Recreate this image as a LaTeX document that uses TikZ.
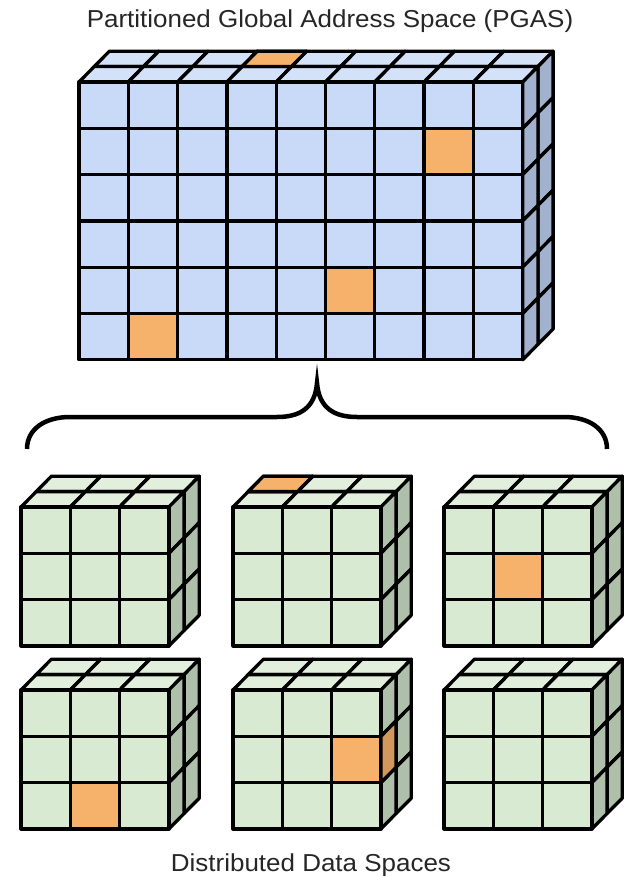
\documentclass[tikz,border=0pt]{standalone}
\usepackage{fontspec}
\setmainfont{Liberation Sans}
\usepackage{tikz}
\usetikzlibrary{calc}

\definecolor{pgasfront}{HTML}{C9DAF8}
\definecolor{pgastop}{HTML}{D3E1F9}
\definecolor{pgasside}{HTML}{A2B1CD}
\definecolor{dsfront}{HTML}{D9EAD3}
\definecolor{dstop}{HTML}{E2EFDD}
\definecolor{dsside}{HTML}{AEBFAA}
\definecolor{hit}{HTML}{F6B26B}
\definecolor{hitside}{HTML}{D1975C}

\def\cw{49.3}
\def\ch{46.3}
\def\dx{15.2}
\def\dy{-15.4}

\tikzset{
  cell/.style={draw=black, line width=3.3pt, line join=round},
  captiontext/.style={anchor=base, font=\fontsize{24.5}{28}\selectfont, text=black!85, xscale=1.06, transform shape}
}

% block: x, y, columns, rows, front, top, side
\newcommand{\drawblock}[7]{%
  \foreach \k in {1,0}{%
    \foreach \i in {1,...,#3}
      \filldraw[cell, fill=#6] ({#1+(\i-1)*\cw+\k*\dx},{#2+\k*\dy}) -- ++(\cw,0) -- ++(\dx,\dy) -- ++(-\cw,0) -- cycle;
    \foreach \j in {1,...,#4}
      \filldraw[cell, fill=#7] ({#1+#3*\cw+\k*\dx},{#2+(\j-1)*\ch+\k*\dy}) -- ++(\dx,\dy) -- ++(0,\ch) -- ++(-\dx,-\dy) -- cycle;
  }
  \foreach \i in {1,...,#3}
    \foreach \j in {1,...,#4}
      \filldraw[cell, fill=#5] ({#1+(\i-1)*\cw},{#2+(\j-1)*\ch}) rectangle ++(\cw,\ch);
}
% x, y, column, row
\newcommand{\hitfront}[4]{%
  \filldraw[cell, fill=hit] ({#1+(#3-1)*\cw},{#2+(#4-1)*\ch}) rectangle ++(\cw,\ch);
}
% x, y, column, layer
\newcommand{\hittop}[4]{%
  \filldraw[cell, fill=hit] ({#1+(#3-1)*\cw+#4*\dx},{#2+#4*\dy}) -- ++(\cw,0) -- ++(\dx,\dy) -- ++(-\cw,0) -- cycle;
}
% x, y, columns, row, layer
\newcommand{\hitsidecell}[5]{%
  \filldraw[cell, fill=hitside] ({#1+#3*\cw+#5*\dx},{#2+(#4-1)*\ch+#5*\dy}) -- ++(\dx,\dy) -- ++(0,\ch) -- ++(-\dx,-\dy) -- cycle;
}

\begin{document}
\begin{tikzpicture}[x=1pt, y=-1pt]
    \useasboundingbox (0,0) rectangle (623,877);

    \node[captiontext] (pgas) at (330,28) {Partitioned Global Address Space (PGAS)};

    \drawblock{79}{82}{9}{6}{pgasfront}{pgastop}{pgasside}
    \hittop{79}{82}{4}{1}
    \hitfront{79}{82}{8}{2}
    \hitfront{79}{82}{6}{5}
    \hitfront{79}{82}{2}{6}

    \draw[line width=4.5pt] (27,449) .. controls (27,429) and (45,417) .. (70,417) -- (277,417)
        .. controls (300,417) and (315,408) .. (317,383) .. controls (319,408) and (334,417) .. (357,417)
        -- (564,417) .. controls (589,417) and (607,429) .. (607,449);

    \drawblock{21}{507}{3}{3}{dsfront}{dstop}{dsside}
    \drawblock{233}{507}{3}{3}{dsfront}{dstop}{dsside}
    \hittop{233}{507}{1}{1}
    \drawblock{444}{507}{3}{3}{dsfront}{dstop}{dsside}
    \hitfront{444}{507}{2}{2}

    \drawblock{21}{690}{3}{3}{dsfront}{dstop}{dsside}
    \hitfront{21}{690}{2}{3}
    \drawblock{233}{690}{3}{3}{dsfront}{dstop}{dsside}
    \hitfront{233}{690}{3}{2}
    \hitsidecell{233}{690}{3}{2}{0}
    \drawblock{444}{690}{3}{3}{dsfront}{dstop}{dsside}

    \node[captiontext] (dds) at (311,871) {Distributed Data Spaces};
\end{tikzpicture}
\end{document}
